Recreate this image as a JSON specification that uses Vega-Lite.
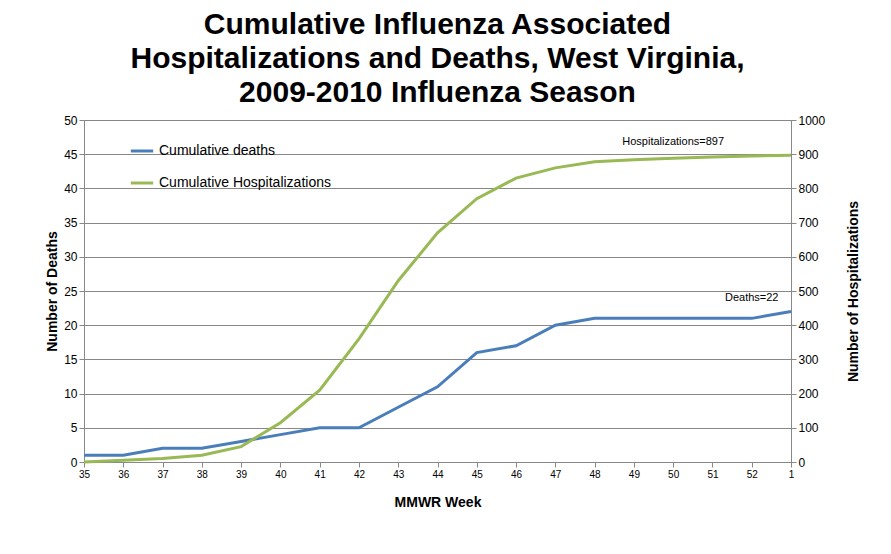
{
  "$schema": "https://vega.github.io/schema/vega-lite/v6.json",
  "width": 891,
  "height": 554,
  "autosize": {"type": "fit", "contains": "padding"},
  "padding": {"left": 45, "right": 30, "top": 10, "bottom": 45},
  "background": "white",
  "config": {
    "font": "Liberation Sans",
    "view": {"stroke": "#888"},
    "axis": {"labelFont": "Liberation Sans", "titleFont": "Liberation Sans", "labelColor": "#000", "titleColor": "#000", "domainColor": "#888", "tickColor": "#888", "gridColor": "#888", "labelFontSize": 12, "titleFontSize": 14, "titleFontWeight": "bold"}
  },
  "title": {
    "text": ["Cumulative Influenza Associated", "Hospitalizations and Deaths, West Virginia,", "2009-2010 Influenza Season"],
    "fontSize": 30, "fontWeight": "bold", "color": "#000", "lineHeight": 34, "offset": 6
  },
  "data": {"values": [
    {"week": "35", "deaths": 1, "hosp": 0},
    {"week": "36", "deaths": 1, "hosp": 5},
    {"week": "37", "deaths": 2, "hosp": 10},
    {"week": "38", "deaths": 2, "hosp": 20},
    {"week": "39", "deaths": 3, "hosp": 45},
    {"week": "40", "deaths": 4, "hosp": 115},
    {"week": "41", "deaths": 5, "hosp": 210},
    {"week": "42", "deaths": 5, "hosp": 360},
    {"week": "43", "deaths": 8, "hosp": 530},
    {"week": "44", "deaths": 11, "hosp": 670},
    {"week": "45", "deaths": 16, "hosp": 770},
    {"week": "46", "deaths": 17, "hosp": 830},
    {"week": "47", "deaths": 20, "hosp": 860},
    {"week": "48", "deaths": 21, "hosp": 878},
    {"week": "49", "deaths": 21, "hosp": 884},
    {"week": "50", "deaths": 21, "hosp": 888},
    {"week": "51", "deaths": 21, "hosp": 892},
    {"week": "52", "deaths": 21, "hosp": 895},
    {"week": "1", "deaths": 22, "hosp": 897}
  ]},
  "encoding": {
    "x": {"field": "week", "type": "ordinal", "sort": null, "scale": {"type": "point", "padding": 0},
      "axis": {"title": "MMWR Week", "labelAngle": 0, "labelFontSize": 10, "titlePadding": 16, "grid": false}}
  },
  "layer": [
    {
      "layer": [
        {
          "mark": {"type": "line", "strokeWidth": 3},
          "encoding": {
            "y": {"field": "deaths", "type": "quantitative", "scale": {"domain": [0, 50]},
              "axis": {"title": "Number of Deaths", "tickCount": 10, "grid": true}},
            "color": {"datum": "Cumulative deaths", "type": "nominal",
              "scale": {"domain": ["Cumulative deaths", "Cumulative Hospitalizations"], "range": ["#4a7ebb", "#98b954"]},
              "legend": {"title": null, "orient": "none", "legendX": 45, "legendY": 18, "labelFontSize": 14, "labelLimit": 300, "symbolType": "stroke", "symbolStrokeWidth": 3, "symbolSize": 500, "rowPadding": 12}}
          }
        },
        {
          "data": {"values": [{"week": "52", "y": 24, "t": "Deaths=22"}]},
          "mark": {"type": "text", "fontSize": 11, "color": "#000"},
          "encoding": {"y": {"field": "y", "type": "quantitative"}, "text": {"field": "t"}}
        }
      ]
    },
    {
      "layer": [
        {
          "mark": {"type": "line", "strokeWidth": 3},
          "encoding": {
            "y": {"field": "hosp", "type": "quantitative", "scale": {"domain": [0, 1000]},
              "axis": {"title": "Number of Hospitalizations", "orient": "right", "tickCount": 10, "format": "d", "titleAngle": -90, "titlePadding": 36, "grid": false}},
            "color": {"datum": "Cumulative Hospitalizations", "type": "nominal"}
          }
        },
        {
          "data": {"values": [{"week": "50", "y": 935, "t": "Hospitalizations=897"}]},
          "mark": {"type": "text", "fontSize": 11, "color": "#000"},
          "encoding": {"y": {"field": "y", "type": "quantitative"}, "text": {"field": "t"}}
        }
      ]
    }
  ],
  "resolve": {"scale": {"y": "independent"}}
}
